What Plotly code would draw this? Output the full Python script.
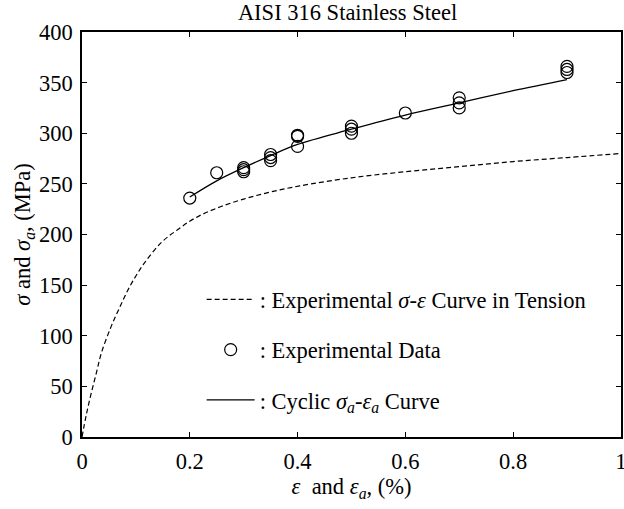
import plotly.graph_objects as go

# Monotonic tension test (dashed curve)
tension_strain = [0.0, 0.008, 0.017, 0.027, 0.036, 0.054, 0.07, 0.085, 0.1, 0.116,
                  0.147, 0.178, 0.209, 0.25, 0.3, 0.35, 0.404, 0.5, 0.6, 0.7,
                  0.8, 0.9, 1.0]
tension_stress = [0, 22, 43, 64, 83, 109, 128, 145, 159, 172,
                  192, 205, 216, 226, 235, 242, 248, 256, 262, 267,
                  272, 276, 280]

# Cyclic stress amplitude measurements
data_strain = [0.2, 0.25, 0.3, 0.3, 0.3, 0.35, 0.35, 0.35, 0.4, 0.4, 0.4,
               0.5, 0.5, 0.5, 0.6, 0.7, 0.7, 0.7, 0.9, 0.9, 0.9]
data_stress = [236, 261, 262, 264, 266, 273, 276, 279, 287, 297, 298,
               300, 304, 307, 320, 325, 330, 335, 360, 363, 366]

# Fitted cyclic stress-strain curve
cyclic_strain = [0.2, 0.25, 0.3, 0.35, 0.4, 0.5, 0.6, 0.7, 0.8, 0.9]
cyclic_stress = [237, 253, 266, 278, 289, 304, 318, 330, 342, 353]

x_ticks = [0, 0.2, 0.4, 0.6, 0.8, 1]
x_tick_text = ["0", "0.2", "0.4", "0.6", "0.8", "1"]
y_ticks = [0, 50, 100, 150, 200, 250, 300, 350, 400]

FONT = "Liberation Serif, Times New Roman, serif"
FS = 22.5

fig = go.Figure()

fig.add_trace(go.Scatter(
    x=tension_strain, y=tension_stress, mode="lines",
    line=dict(color="black", width=1.2, dash="5px,3px", shape="spline"),
    name=": Experimental <i>σ</i>-<i>ε</i> Curve in Tension",
    legendgroup="a",
))
fig.add_trace(go.Scatter(
    x=data_strain, y=data_stress, mode="markers",
    marker=dict(symbol="circle-open", size=12, color="black",
                line=dict(color="black", width=1.2)),
    name=": Experimental Data",
    legendgroup="b",
))
fig.add_trace(go.Scatter(
    x=cyclic_strain, y=cyclic_stress, mode="lines",
    line=dict(color="black", width=1.3, shape="spline"),
    name=": Cyclic <i>σ<sub>a</sub></i>-<i>ε<sub>a</sub></i> Curve",
    legendgroup="c",
))

axis_common = dict(
    showline=True, linecolor="black", linewidth=1.6, mirror="allticks",
    ticks="inside", ticklen=5, tickwidth=1, tickcolor="black",
    showgrid=False, zeroline=False, automargin=False,
    ticklabelstandoff=3,
    tickfont=dict(family=FONT, size=FS, color="black"),
)

fig.update_layout(
    width=624, height=509,
    margin=dict(l=82, r=3, t=32, b=72),
    paper_bgcolor="white", plot_bgcolor="white",
    font=dict(family=FONT, size=FS, color="black"),
    title=dict(text="AISI 316 Stainless Steel", x=0.557, xanchor="center",
               y=0.977, yanchor="middle",
               font=dict(family=FONT, size=FS, color="black")),
    xaxis=dict(range=[0, 1.0002], tickvals=x_ticks, ticktext=x_tick_text,
               ticklabeloverflow="allow",
               title=dict(text="<i>ε</i>  and <i>ε<sub>a</sub></i>, (%)",
                          font=dict(family=FONT, size=FS), standoff=3),
               **axis_common),
    yaxis=dict(range=[0, 400], tickvals=y_ticks,
               title=dict(text="<i>σ</i> and <i>σ<sub>a</sub></i>, (MPa)",
                          font=dict(family=FONT, size=FS), standoff=2),
               **axis_common),
    showlegend=True,
    legend=dict(x=0.222, xanchor="left", y=0.392, yanchor="top",
                bgcolor="rgba(0,0,0,0)", borderwidth=0,
                font=dict(family=FONT, size=FS, color="black"),
                tracegroupgap=18, itemwidth=48),
)

fig.write_html("out.html")
